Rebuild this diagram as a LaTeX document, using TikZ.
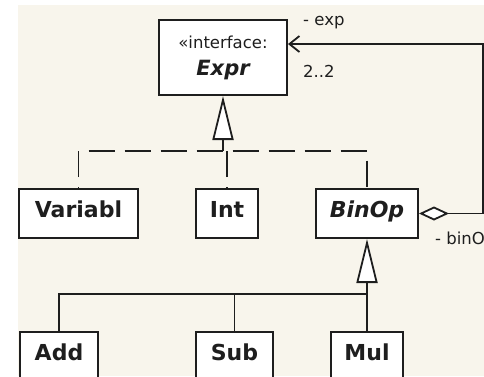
\documentclass[tikz,border=0pt]{standalone}
\usepackage{fontspec}
\setmainfont{DejaVu Sans}
\usetikzlibrary{positioning}
\usetikzlibrary{calc}
\usetikzlibrary{arrows.meta}

\definecolor{paper}{RGB}{248,245,236}
\definecolor{ink}{RGB}{30,30,30}

\begin{document}
\begin{tikzpicture}
  [x=1pt, y=1pt, node distance=92pt and 56pt,
   class/.style = {draw=ink, fill=white, text=ink, line width=2pt, inner sep=0pt,
                   minimum height=49pt, text height=16pt, text depth=8pt,
                   font=\bfseries\fontsize{22}{26}\selectfont},
   role/.style = {inner sep=0pt, text=ink, font=\fontsize{16.5}{20}\selectfont},
   conn/.style = {draw=ink, line width=1.8pt},
   realize/.style = {dash pattern=on 26pt off 10pt, dash phase=25pt},
   inherit/.style = {-{Triangle[length=44pt, width=21pt, fill=white]}},
   has/.style = {{Diamond[length=30pt, width=14pt, fill=white]}-{Straight Barb[length=10pt, width=16pt]}}]
  \useasboundingbox (0,0) rectangle (484,-376);
  \fill[paper] (18,-5) rectangle (484,-376);

  \node (expr) [class, minimum width=128pt, minimum height=75pt, align=center,
                text height=, text depth=, font=\bfseries\fontsize{21}{27}\selectfont]
    at (223,-57.5) {{\mdseries\fontsize{16.5}{20}\selectfont «interface:}\\ \itshape Expr};
  \node (int) [class, minimum width=62pt, below=of expr, xshift=4pt] {Int};
  \node (var) [class, minimum width=119pt, left=of int] {Variabl};
  \node (binop) [class, minimum width=102pt, right=of int] {\itshape BinOp};
  \node (mul) [class, minimum width=72pt, below=of binop] {Mul};
  \node (sub) [class, minimum width=77pt, left=of mul] {Sub};
  \node (add) [class, minimum width=78pt, left=96pt of sub] {Add};

  \coordinate (bar1) at ($(expr.south)+(0,-55)$);
  \coordinate (bar2) at ($(binop.south)+(0,-55)$);

  % realizations of the interface
  \draw[conn, realize] (var.north) |- (bar1 -| binop.north) -- (binop.north);
  \draw[conn, realize] (int.north) -- (int.north |- bar1);
  \draw[conn, inherit] (bar1) -- (expr.south);

  % subclasses of BinOp
  \draw[conn] (add.north) |- (bar2 -| mul.north) -- (mul.north);
  \draw[conn] (sub.north) -- (sub.north |- bar2);
  \draw[conn, inherit] (bar2) -- (binop.south);

  % aggregation
  \draw[conn, has] (binop.east) -- ++(64,0) |- ([yshift=13.5pt]expr.east);
  \node (expname) [role, anchor=base west] at ($(expr.east)+(15,32.5)$) {- exp};
  \node (expmult) [role, anchor=base west] at ($(expr.east)+(15,-19.5)$) {2..2};
  \node (binname) [role, anchor=base west] at ($(binop.east)+(16,-30.5)$) {- binO};
\end{tikzpicture}
\end{document}
